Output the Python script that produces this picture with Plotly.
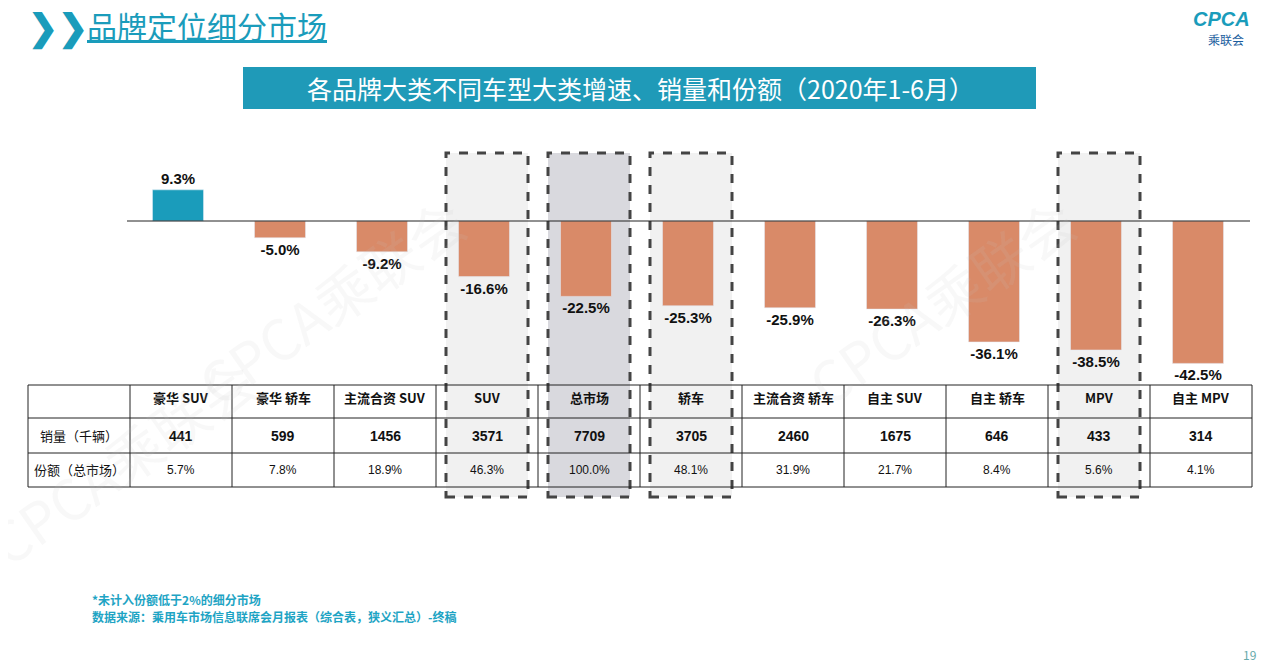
import plotly.graph_objects as go

W, H = 1280, 660
OFF = 8  # page offset of the figure in the browser window

categories = ["豪华 SUV", "豪华 轿车", "主流合资 SUV", "SUV", "总市场", "轿车",
              "主流合资 轿车", "自主 SUV", "自主 轿车", "MPV", "自主 MPV"]
growth = [9.3, -5.0, -9.2, -16.6, -22.5, -25.3, -25.9, -26.3, -36.1, -38.5, -42.5]
sales = [441, 599, 1456, 3571, 7709, 3705, 2460, 1675, 646, 433, 314]
share = ["5.7%", "7.8%", "18.9%", "46.3%", "100.0%", "48.1%", "31.9%", "21.7%", "8.4%", "5.6%", "4.1%"]
row_labels = ["销量（千辆）", "份额（总市场）"]
highlight = ["SUV", "总市场", "轿车", "MPV"]

BLUE = "#1a9cbb"
ORANGE = "#d98a68"
FONT = "Noto Sans CJK SC"


def px(x):
    return (x - OFF) / W


def py(y):
    return 1 - (y - OFF) / H


# table geometry (screen pixels)
T_LEFT, C0_RIGHT, COL_W = 28, 130, 102
ROWS = [385, 418, 453, 487]
col_edges = [C0_RIGHT + i * COL_W for i in range(len(categories) + 1)]

# y scale: zero at pixel 221, 3.35 px per %
Y_TOP, Y_BOT, ZERO, K = 140, 380, 221, 3.35

fig = go.Figure()
fig.add_trace(go.Bar(
    x=list(range(len(categories))), y=growth, width=0.5,
    marker_color=[BLUE if v > 0 else ORANGE for v in growth],
    text=[f"<b>{v:.1f}%</b>" for v in growth], textposition="outside",
    textfont=dict(size=15, color="#111", family="Arial, " + FONT),
    cliponaxis=False,
))

shapes = []
ann = []

# highlight boxes
for i, c in enumerate(categories):
    if c in highlight:
        fill = "#d9d9de" if c == "总市场" else "#f1f1f1"
        shapes.append(dict(type="rect", xref="paper", yref="paper", layer="below",
                           x0=px(col_edges[i] + 10), x1=px(col_edges[i + 1] - 10),
                           y0=py(497), y1=py(153), fillcolor=fill,
                           line=dict(color="#444", width=3, dash="dash")))

# zero line
shapes.append(dict(type="line", xref="paper", yref="paper", x0=px(127), x1=px(1250),
                   y0=py(ZERO), y1=py(ZERO), line=dict(color="#222", width=1)))

# table lines
for y in ROWS:
    shapes.append(dict(type="line", xref="paper", yref="paper", x0=px(T_LEFT), x1=px(col_edges[-1]),
                       y0=py(y), y1=py(y), line=dict(color="#222", width=1)))
for x in [T_LEFT] + col_edges:
    shapes.append(dict(type="line", xref="paper", yref="paper", x0=px(x), x1=px(x),
                       y0=py(ROWS[0]), y1=py(ROWS[-1]), line=dict(color="#222", width=1)))

# table text
for i, c in enumerate(categories):
    cx = px((col_edges[i] + col_edges[i + 1]) / 2)
    ann.append(dict(x=cx, y=py((ROWS[0] + ROWS[1]) / 2 - 4), text=f"<b>{c}</b>", font=dict(size=13)))
    ann.append(dict(x=cx, y=py((ROWS[1] + ROWS[2]) / 2), text=f"<b>{sales[i]}</b>",
                    font=dict(size=14, family="Arial")))
    ann.append(dict(x=cx, y=py((ROWS[2] + ROWS[3]) / 2), text=share[i], font=dict(size=12, family="Arial")))
for j, lab in enumerate(row_labels):
    ann.append(dict(x=px((T_LEFT + C0_RIGHT) / 2), y=py((ROWS[j + 1] + ROWS[j + 2]) / 2),
                    text=lab, font=dict(size=13)))

# header title box
shapes.append(dict(type="rect", xref="paper", yref="paper", x0=px(243), x1=px(1036),
                   y0=py(109), y1=py(67), fillcolor="#1f9ab8", line=dict(width=0)))
ann.append(dict(x=px(640), y=py(88), text="各品牌大类不同车型大类增速、销量和份额（2020年1-6月）",
                font=dict(size=25, color="white")))

# page heading
ann.append(dict(x=px(26), y=py(24), xanchor="left", text="<b>❯❯</b>", font=dict(size=36, color=BLUE)))
ann.append(dict(x=px(85), y=py(25), xanchor="left", text="<u>品牌定位细分市场</u>",
                font=dict(size=30, color=BLUE)))

# logo
ann.append(dict(x=px(1252), y=py(19), xanchor="right", text="<b><i>CPCA</i></b>",
                font=dict(size=20, color=BLUE, family="Arial")))
ann.append(dict(x=px(1246), y=py(40), xanchor="right", text="乘联会",
                font=dict(size=12, color="#1b5e9e")))

# watermarks
for x, y in [(330, 300), (940, 300), (120, 460)]:
    ann.append(dict(x=px(x), y=py(y), text="CPCA乘联会", textangle=-35,
                    font=dict(size=56, color="rgba(200,200,200,0.12)")))

# footnotes
ann.append(dict(x=px(90), y=py(599), xanchor="left", text="<b>*未计入份额低于2%的细分市场</b>",
                font=dict(size=12, color="#1ea4c4")))
ann.append(dict(x=px(90), y=py(616), xanchor="left",
                text="<b>数据来源：乘用车市场信息联席会月报表（综合表，狭义汇总）-终稿</b>",
                font=dict(size=12, color="#1ea4c4")))
ann.append(dict(x=px(1258), y=py(654), xanchor="right", text="19", font=dict(size=12, color="#6aa")))

for a in ann:
    a.setdefault("xref", "paper")
    a.setdefault("yref", "paper")
    a.setdefault("xanchor", "center")
    a.setdefault("yanchor", "middle")
    a.setdefault("showarrow", False)
    a["font"].setdefault("color", "#111")

fig.update_layout(
    width=W, height=H, margin=dict(l=0, r=0, t=0, b=0),
    plot_bgcolor="rgba(0,0,0,0)", paper_bgcolor="white",
    font=dict(family=FONT),
    showlegend=False, shapes=shapes, annotations=ann,
    xaxis=dict(domain=[px(col_edges[0] - 3), px(col_edges[-1] - 3)], range=[-0.5, len(categories) - 0.5],
               visible=False, fixedrange=True),
    yaxis=dict(domain=[py(Y_BOT), py(Y_TOP)], range=[-(Y_BOT - ZERO) / K, (ZERO - Y_TOP) / K],
               visible=False, fixedrange=True),
)

fig.write_html("out.html")
